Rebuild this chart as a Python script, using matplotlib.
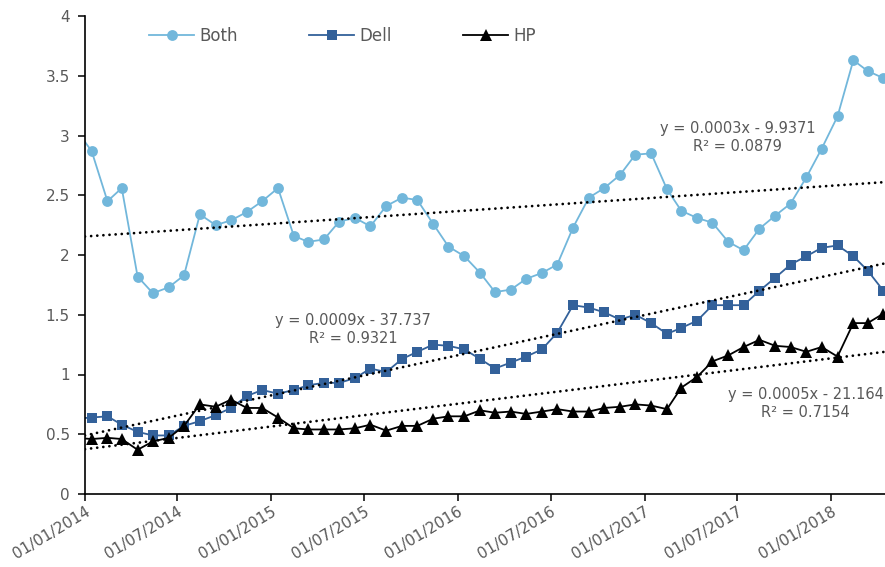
import matplotlib
matplotlib.use('Agg')
import matplotlib.pyplot as plt
import matplotlib.dates as mdates
from matplotlib.ticker import FuncFormatter, MultipleLocator, FixedLocator
import numpy as np
import pandas as pd

# ---------------- data ----------------
dates = pd.date_range('2013-12-01', '2018-04-01', freq='MS') + pd.Timedelta(days=13)

both = [3.05,
        2.87, 2.45, 2.56, 1.82, 1.68, 1.73, 1.83, 2.34, 2.25, 2.29, 2.36, 2.45, 2.56,
        2.16, 2.11, 2.13, 2.28, 2.31, 2.24, 2.41, 2.48, 2.46, 2.26, 2.07, 1.99, 1.85,
        1.69, 1.71, 1.80, 1.85, 1.92, 2.23, 2.48, 2.56, 2.67, 2.84, 2.85, 2.55, 2.37,
        2.31, 2.27, 2.11, 2.04, 2.22, 2.33, 2.43, 2.65, 2.89, 3.16, 3.63, 3.54, 3.48]

dell = [0.63,
        0.64, 0.65, 0.58, 0.52, 0.49, 0.49, 0.57, 0.61, 0.66, 0.72, 0.82, 0.87, 0.84,
        0.87, 0.91, 0.93, 0.93, 0.97, 1.05, 1.02, 1.13, 1.19, 1.25, 1.24, 1.21, 1.13,
        1.05, 1.10, 1.15, 1.21, 1.35, 1.58, 1.56, 1.52, 1.46, 1.50, 1.43, 1.34, 1.39,
        1.45, 1.58, 1.58, 1.58, 1.70, 1.81, 1.92, 1.99, 2.06, 2.08, 1.99, 1.87, 1.70]

hp = [0.47,
      0.46, 0.47, 0.46, 0.37, 0.44, 0.47, 0.57, 0.75, 0.73, 0.79, 0.72, 0.72, 0.64,
      0.55, 0.54, 0.54, 0.54, 0.55, 0.58, 0.53, 0.57, 0.57, 0.63, 0.65, 0.65, 0.70,
      0.68, 0.69, 0.67, 0.69, 0.71, 0.69, 0.69, 0.72, 0.73, 0.75, 0.74, 0.71, 0.89,
      0.98, 1.11, 1.16, 1.23, 1.29, 1.24, 1.23, 1.19, 1.23, 1.15, 1.43, 1.43, 1.51]

series_names = ['Both', 'Dell', 'HP']

# linear trend values at the left and right ends of the axis
trend_start = [2.155, 0.49, 0.375]
trend_end = [2.61, 1.93, 1.19]

equations = ['y = 0.0003x - 9.9371\nR² = 0.0879',
             'y = 0.0009x - 37.737\nR² = 0.9321',
             'y = 0.0005x - 21.164\nR² = 0.7154']

tick_dates = pd.date_range('2014-01-01', '2018-01-01', freq='6MS')
x_start = pd.Timestamp('2014-01-01')
x_end = pd.Timestamp('2018-04-17')

# ---------------- style ----------------
plt.rcParams['font.family'] = ['DejaVu Sans']
text_color = '#595959'
colors = ['#72B7DB', '#33619A', '#000000']
markers = ['o', 's', '^']
msizes = [7.8, 6.6, 9.2]

fig = plt.figure(figsize=(8.85, 5.67), dpi=100)
ax = fig.add_axes([85/885, 1-494/567, 800/885, 478/567])

handles = []
for vals, name, c, m, ms in zip([both, dell, hp], series_names, colors, markers, msizes):
    h, = ax.plot(dates, vals, color=c, marker=m, markersize=ms, linewidth=1.3,
                 markeredgewidth=0, label=name)
    handles.append(h)

# linear trend lines across the whole axis
xl = mdates.date2num([x_start, x_end])
for y0, y1 in zip(trend_start, trend_end):
    ax.plot(xl, [y0, y1], color='black', linewidth=2.0,
            linestyle=(0, (0.01, 2.2)), dash_capstyle='round', zorder=5)

ax.set_xlim(xl[0], xl[1])
ax.set_ylim(0, 4)

ax.xaxis.set_major_locator(FixedLocator(mdates.date2num(tick_dates)))
ax.xaxis.set_major_formatter(mdates.DateFormatter('%d/%m/%Y'))
ax.yaxis.set_major_locator(MultipleLocator(0.5))
ax.yaxis.set_major_formatter(FuncFormatter(lambda v, p: '%g' % v))

for s in ['top', 'right']:
    ax.spines[s].set_visible(False)
for s in ['left', 'bottom']:
    ax.spines[s].set_linewidth(1.2)
    ax.spines[s].set_color('black')

ax.tick_params(axis='both', direction='out', length=5, width=1.1, colors='black',
               labelcolor=text_color, labelsize=11)
ax.tick_params(axis='y', pad=6)
ax.tick_params(axis='x', pad=2)
for lbl in ax.get_xticklabels():
    lbl.set_rotation(31)
    lbl.set_ha('right')
    lbl.set_rotation_mode('anchor')

# equation labels
eq_pos = [(0.816, 0.745), (0.335, 0.345), (0.901, 0.189)]
for txt, (px, py) in zip(equations, eq_pos):
    ax.text(px, py, txt, transform=ax.transAxes, ha='center', va='center',
            fontsize=10.5, color=text_color, linespacing=1.25)

leg = ax.legend(handles=handles, loc='center', bbox_to_anchor=(0.322, 0.958), ncol=3,
                frameon=False, fontsize=12, handlelength=2.7, columnspacing=4.3,
                handletextpad=0.3)
for t in leg.get_texts():
    t.set_color(text_color)

fig.savefig('out.png', dpi=100)
